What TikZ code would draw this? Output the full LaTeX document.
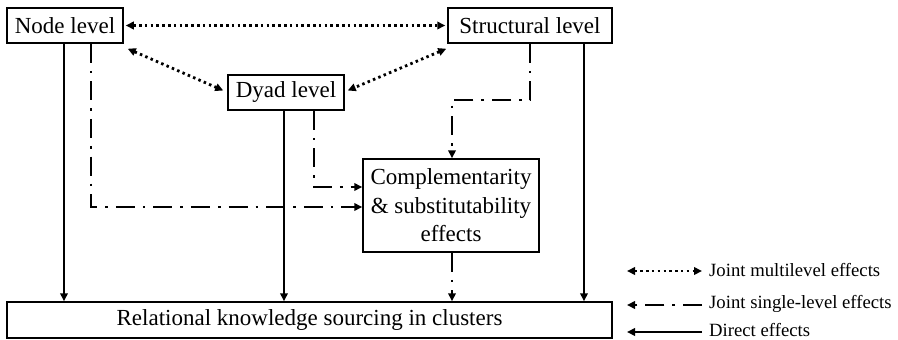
\documentclass[tikz,border=0pt]{standalone}
\usepackage{fontspec}
\setmainfont{Liberation Serif}
\usetikzlibrary{arrows.meta}
\tikzset{
  box/.style={draw, line width=1.5pt, inner sep=0pt, align=center, font=\fontsize{23}{28.5}\selectfont},
  tip/.style={-{Triangle[length=8pt,width=7.5pt]}},
  direct/.style={line width=2.8pt, tip},
  joint/.style={line width=2.8pt, tip, dash pattern=on 19pt off 8pt on 2.6pt off 8pt},
  multi/.style={line width=2.8pt, {Triangle[length=8pt,width=7.5pt]}-{Triangle[length=8pt,width=7.5pt]}, dash pattern=on 2.5pt off 3.3pt},
  legtext/.style={anchor=west, inner sep=0pt, font=\fontsize{18.7}{22}\selectfont}
}
\begin{document}
\begin{tikzpicture}[x=1pt,y=-1pt]
\path[use as bounding box] (0,0) rectangle (898,340);
\node[box, minimum width=116pt, minimum height=35pt] (nodel) at (65,25.5) {Node level};
\node[box, minimum width=164pt, minimum height=35pt] (struct) at (530,25.5) {Structural level};
\node[box, minimum width=116pt, minimum height=35pt] (dyad) at (286,92.5) {Dyad level};
\node[box, minimum width=176pt, minimum height=93pt] (comp) at (451,205.5) {Complementarity\\\& substitutability\\effects};
\node[box, minimum width=605pt, minimum height=36pt] (rel) at (309.5,320) {Relational knowledge sourcing in clusters};

% joint multilevel effects
\draw[multi] ([xshift=2pt]nodel.east) -- ([xshift=-2pt]struct.west);
\draw[multi] ([xshift=4pt,yshift=-5pt]nodel.south east) -- ([xshift=-4pt,yshift=2pt]dyad.west);
\draw[multi] ([xshift=-1pt,yshift=-5pt]struct.south west) -- ([xshift=3pt,yshift=2pt]dyad.east);

% direct effects
\draw[direct] ([xshift=-1pt]nodel.south) -- ([xshift=-1pt]nodel.south |- rel.north);
\draw[direct] ([xshift=-2pt]dyad.south) -- ([xshift=-2pt]dyad.south |- rel.north);
\draw[direct] ([xshift=54pt]struct.south) -- ([xshift=54pt]struct.south |- rel.north);

% joint single-level effects
\draw[joint] ([xshift=26pt]nodel.south) |- ([yshift=-1.5pt]comp.west);
\draw[joint] ([xshift=28pt]dyad.south) |- ([yshift=18.5pt]comp.west);
\coordinate (bend) at (530,100);
\draw[joint] (struct.south) -- (bend) -| ([xshift=1pt]comp.north);
\draw[joint] ([xshift=1pt]comp.south) -- ([xshift=1pt]comp.south |- rel.north);

% legend
\coordinate (l1a) at (702,271); \coordinate (l1b) at (627,271);
\coordinate (l2a) at (702,305); \coordinate (l2b) at (627,305);
\coordinate (l3a) at (702,332); \coordinate (l3b) at (627,332);
\draw[multi] (l1b) -- (l1a);
\draw[joint] (l2a) -- (l2b);
\draw[direct] (l3a) -- (l3b);
\node[legtext] (t1) at (709,270) {Joint multilevel effects};
\node[legtext] (t2) at (709,304) {Joint single-level effects};
\node[legtext] (t3) at (709,330) {Direct effects};
\end{tikzpicture}
\end{document}
